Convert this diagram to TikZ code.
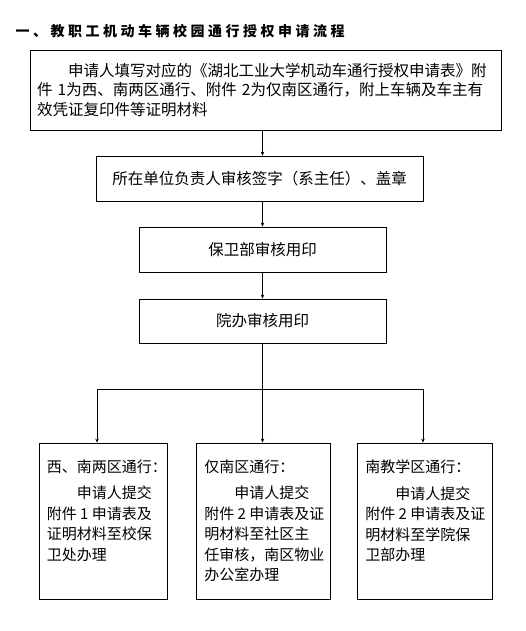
\documentclass[tikz,border=0pt]{standalone}
\usepackage{fontspec}
\setmainfont{Noto Sans CJK SC}
\newfontfamily\titlefont[LetterSpace=25]{Noto Sans CJK SC}
\usetikzlibrary{arrows.meta, positioning}

\tikzset{
  flowbox/.style={draw, line width=0.8pt, minimum height=45pt,
                  font=\fontsize{15.5}{19.5}\selectfont},
  zonebox/.style={draw, line width=0.8pt, minimum height=156pt},
  zonetext/.style={inner sep=0pt, align=left,
                   font=\fontsize{15}{20.5}\selectfont},
  flow/.style={-{Stealth[length=4pt,width=3.5pt]}, line width=0.8pt}
}

\begin{document}
\begin{tikzpicture}[x=1pt, y=-1pt]
\useasboundingbox (0,0) rectangle (526,631);
\node[anchor=west, font=\titlefont\bfseries\fontsize{14}{16}\selectfont] (title) at (12,31)
  {一、教职工机动车辆校园通行授权申请流程};

% main chain
\node[flowbox, text width=457pt, inner xsep=7pt, minimum height=80pt, align=left] (apply) at (265.5,90)
  {\hspace*{2em}申请人填写对应的《湖北工业大学机动车通行授权申请表》附\\
   件 1为西、南两区通行、附件 2为仅南区通行，附上车辆及车主有\\
   效凭证复印件等证明材料};
\node[flowbox, minimum width=327pt] (dept) at (259.5,178.5) {所在单位负责人审核签字（系主任）、盖章};
\node[flowbox, minimum width=247pt] (baowei) at (262.5,249.5) {保卫部审核用印};
\node[flowbox, minimum width=247pt, minimum height=44pt] (yuanban) at (262.5,321) {院办审核用印};

\foreach \a/\b in {apply/dept, dept/baowei, baowei/yuanban} {
  \draw[flow] (\a.south -| baowei) -- (\b.north -| baowei);
}

% three zones
\node[zonebox, minimum width=128pt] (zoneW) at (103,521) {};
\node[zonebox, minimum width=134pt] (zoneS) at (263,521) {};
\node[zonebox, minimum width=135pt] (zoneT) at (424.5,521) {};

\node[zonetext, below right=17pt and 8pt of zoneW.north west] (textW)
  {西、南两区通行：\\[6pt]\hspace*{2em}申请人提交\\附件 1 申请表及\\证明材料至校保\\卫处办理};
\node[zonetext, below right=17pt and 8.5pt of zoneS.north west] (textS)
  {仅南区通行：\\[6pt]\hspace*{2em}申请人提交\\附件 2 申请表及证\\明材料至社区主\\任审核，南区物业\\办公室办理};
\node[zonetext, below right=17pt and 8.5pt of zoneT.north west] (textT)
  {南教学区通行：\\[6pt]\hspace*{2em}申请人提交\\附件 2 申请表及证\\明材料至学院保\\卫部办理};

% branching
\coordinate (split) at (262.5,389);
\coordinate (brW) at (97,389);
\coordinate (brT) at (423,389);
\draw[line width=0.8pt] (yuanban.south) -- (split);
\draw[line width=0.8pt] (brW) -- (brT);
\draw[flow] (brW) -- (brW |- zoneW.north);
\draw[flow] (split) -- (split |- zoneS.north);
\draw[flow] (brT) -- (brT |- zoneT.north);
\end{tikzpicture}
\end{document}
